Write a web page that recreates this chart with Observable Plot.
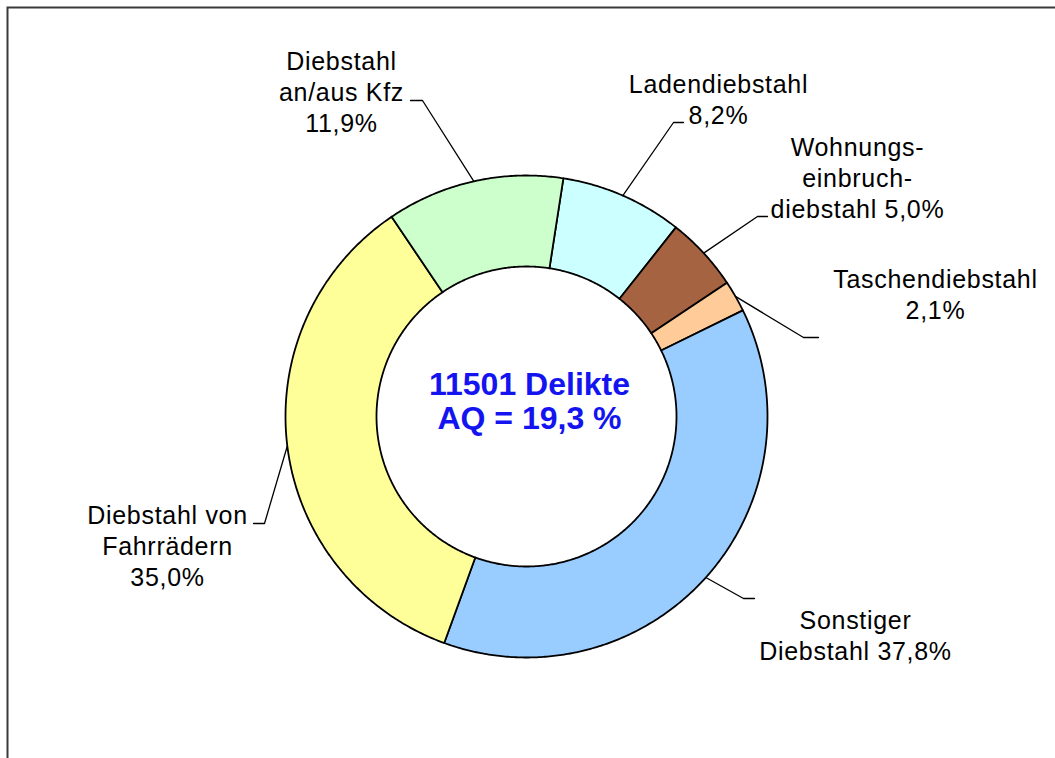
<!DOCTYPE html>
<html><head><meta charset="utf-8">
<script src="https://cdn.jsdelivr.net/npm/d3@7"></script>
<script src="https://cdn.jsdelivr.net/npm/@observablehq/plot@0.6"></script>
<style>
html,body{margin:0;padding:0;background:#fff;}
#chart svg{display:block;}
</style></head><body><div id="chart"></div>
<script>
// ---- data ----
const categories = ["Ladendiebstahl","Wohnungseinbruchdiebstahl","Taschendiebstahl","Sonstiger Diebstahl","Diebstahl von Fahrrädern","Diebstahl an/aus Kfz"];
const shares = [8.2, 5.0, 2.1, 37.8, 35.0, 11.9];
const labelLines = ["Ladendiebstahl\n","Wohnungs-\neinbruch-\ndiebstahl ","Taschendiebstahl\n","Sonstiger\nDiebstahl ","Diebstahl von\nFahrrädern\n","Diebstahl\nan/aus Kfz\n"];
const centerLines = ["11501 Delikte", "AQ = 19,3 %"];

// ---- styles ----
const sliceColors = ["#CCFFFF","#A66342","#FFCC99","#99CCFF","#FFFF99","#CCFFCC"];

// ---- layout (pixels) ----
const W = 1055, H = 758;
const cx = 526, cy = 416, R = 241, r = 150;
const startAngle = 8.8; // degrees clockwise from 12 o'clock
const elbows = [[673,122,683],[757,216,767],[803,337,818],[743,598,754],[264,523,253],[422,100,410]];
const labelPos = [[718,123],[857,217],[935,318],[855,659],[167,585],[341,131]];
const centerPos = [529, 428];

const fmt = v => d3.format(".1f")(v).replace(".", ",") + "%";
const total = d3.sum(shares);
let acc = 0;
const slices = categories.map((c, i) => {
  const a0 = startAngle + acc / total * 360; acc += shares[i];
  const a1 = startAngle + acc / total * 360;
  return {name: c, a0, a1, value: shares[i]};
});
const pt = (a, rad) => [cx + rad * Math.sin(a * Math.PI / 180), cy - rad * Math.cos(a * Math.PI / 180)];

const ringPts = slices.flatMap(s => {
  const n = Math.max(2, Math.ceil((s.a1 - s.a0) / 0.5));
  const pts = [];
  for (let k = 0; k <= n; k++) pts.push(pt(s.a0 + (s.a1 - s.a0) * k / n, R));
  for (let k = n; k >= 0; k--) pts.push(pt(s.a0 + (s.a1 - s.a0) * k / n, r));
  pts.push(pts[0]);
  return pts.map(([x, y]) => ({name: s.name, x, y}));
});

const leaderPts = slices.flatMap((s, i) => {
  const [x0, y0] = pt((s.a0 + s.a1) / 2, R);
  const [ex, ey, tx] = elbows[i];
  return [{name: s.name, x: x0, y: y0}, {name: s.name, x: ex, y: ey}, {name: s.name, x: tx, y: ey}];
});

const labels = slices.map((s, i) => ({x: labelPos[i][0], y: labelPos[i][1], text: labelLines[i] + fmt(s.value)}));

const chart = Plot.plot({
  width: W, height: H, margin: 0,
  x: {domain: [0, W], range: [0, W], axis: null},
  y: {domain: [0, H], range: [0, H], axis: null},
  color: {domain: categories, range: sliceColors},
  style: {fontFamily: "'Liberation Sans', Arial, sans-serif", background: "white"},
  marks: [
    Plot.frame({stroke: "#3a3a3a", strokeWidth: 2, insetTop: 7, insetLeft: 7, insetRight: -20, insetBottom: -20}),
    Plot.line(ringPts, {x: "x", y: "y", z: "name", fill: "name", stroke: "black", strokeWidth: 1.8, strokeLinejoin: "round", curve: "linear"}),
    Plot.line(leaderPts, {x: "x", y: "y", z: "name", stroke: "black", strokeWidth: 1.3}),
    Plot.text(labels, {x: "x", y: "y", text: "text", fontSize: 25, lineAnchor: "bottom", lineHeight: 1.24, textAnchor: "middle", fill: "black"}),
    Plot.text([{x: centerPos[0], y: centerPos[1], text: centerLines.join("\n")}], {x: "x", y: "y", text: "text", fontSize: 32, fontWeight: "bold", fill: "#1414F0", lineAnchor: "bottom", lineHeight: 1.04, textAnchor: "middle"})
  ]
});
// slightly wider label lettering, as in the reference
d3.select(chart).selectAll("g[aria-label='text']").filter((d, i) => i === 0).style("letter-spacing", "0.7px");
document.getElementById("chart").appendChild(chart);
</script>
</body></html>
